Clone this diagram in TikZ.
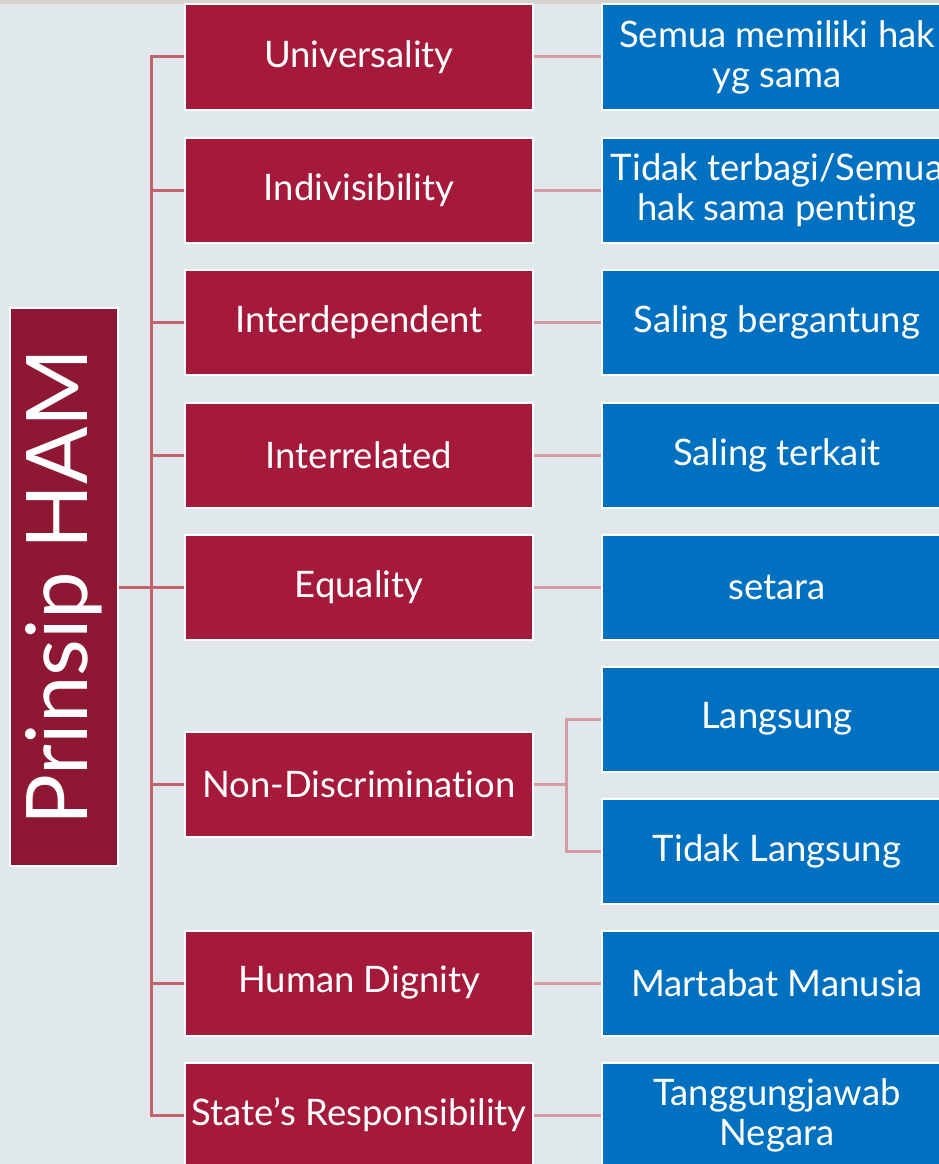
\documentclass[tikz,border=0pt]{standalone}
\usepackage{fontspec}
\setmainfont[Ligatures={NoCommon}]{Lato}
\definecolor{bg}{HTML}{E1E8EB}
\definecolor{strip}{HTML}{D7D4CF}
\definecolor{redbox}{HTML}{A51A3B}
\definecolor{darkred}{HTML}{8E1733}
\definecolor{bluebox}{HTML}{0070C0}
\definecolor{trunkc}{HTML}{C3636E}
\definecolor{connc}{HTML}{D69CA3}
\tikzset{
  redn/.style={fill=redbox, draw=white, line width=2pt, minimum width=348pt, minimum height=105pt, text=white, font=\fontsize{36.5}{40}\selectfont, inner sep=0pt, align=center},
  bluen/.style={fill=bluebox, draw=white, line width=2pt, minimum width=350pt, minimum height=105pt, text=white, font=\fontsize{36.5}{40}\selectfont, inner sep=0pt, align=center},
  trunk/.style={draw=trunkc, line width=3pt},
  conn/.style={draw=connc, line width=3pt},
}
\begin{document}
\begin{tikzpicture}[x=1pt,y=-1pt]
\useasboundingbox (0,0) rectangle (939,1164);
\clip (0,0) rectangle (939,1164);
\fill[bg] (0,0) rectangle (939,1164);
\fill[strip] (0,0) rectangle (939,4);
% left box
\node[fill=darkred, draw=white, line width=2pt, minimum width=108pt, minimum height=558pt, inner sep=0pt] (L) at (64,587) {};
\node[rotate=90, text=white, font=\fontsize{85}{90}\selectfont, inner sep=0pt] (Lt) at (L.center) {Prinsip HAM};
% red boxes
\node[redn] (r1) at (359,57) {Universality};
\node[redn] (r2) at (359,190) {Indivisibility};
\node[redn] (r3) at (359,322) {Interdependent};
\node[redn] (r4) at (359,455) {Interrelated};
\node[redn] (r5) at (359,587) {Equality};
\node[redn] (r6) at (359,784) {Non-Discrimination};
\node[redn] (r7) at (359,983) {Human Dignity};
\node[redn] (r8) at (359,1115) {State’s Responsibility};
% blue boxes
\node[bluen] (b1) at (777,57) {Semua memiliki hak\\yg sama};
\node[bluen] (b2) at (777,190) {Tidak terbagi/Semua\\hak sama penting};
\node[bluen] (b3) at (777,322) {Saling bergantung};
\node[bluen] (b4) at (777,455) {Saling terkait};
\node[bluen] (b5) at (777,587) {setara};
\node[bluen] (b6a) at (777,719) {Langsung};
\node[bluen] (b6b) at (777,851) {Tidak Langsung};
\node[bluen] (b7) at (777,983) {Martabat Manusia};
\node[bluen] (b8) at (777,1115) {Tanggungjawab\\Negara};
% trunk
\draw[trunk] (r1.west) -- ++(-33,0) |- (r8.west);
\foreach \n in {r2,r3,r4,r5,r6,r7} \draw[trunk] (\n.west) -- ++(-33,0);
\draw[trunk] (L.east) -- (r5.west);
% right connectors
\foreach \a/\b in {r1/b1,r2/b2,r3/b3,r4/b4,r5/b5,r7/b7,r8/b8} \draw[conn] (\a.east) -- (\b.west);
\draw[conn] (r6.east) -- ++(34,0);
\draw[conn] (b6a.west) -- ++(-35,0) |- (b6b.west);
\end{tikzpicture}
\end{document}
